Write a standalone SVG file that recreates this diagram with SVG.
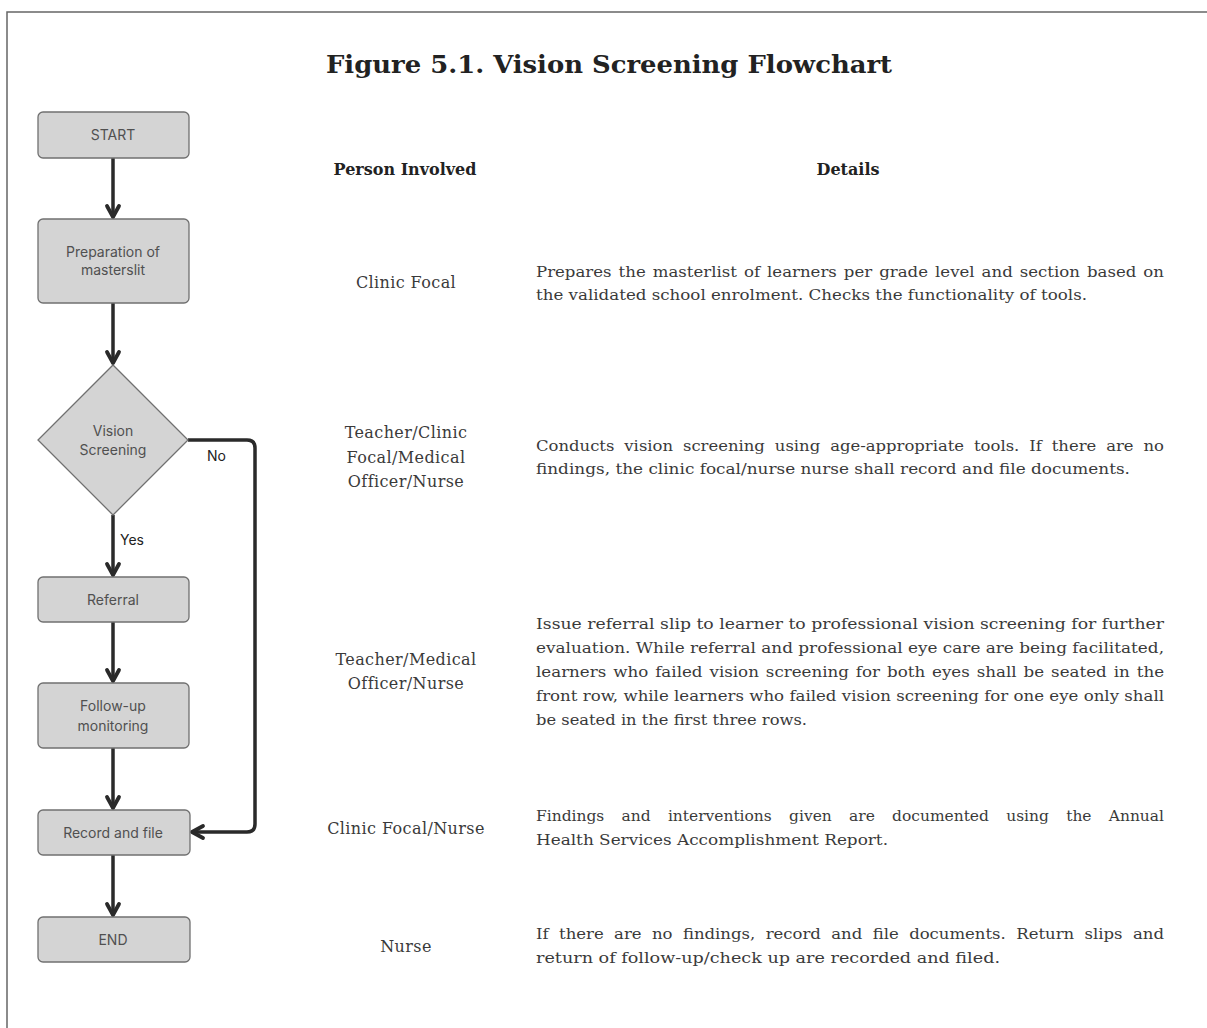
<svg xmlns="http://www.w3.org/2000/svg" width="1207" height="1028" viewBox="0 0 1207 1028">
<style>
.node{fill:#d4d4d4;stroke:#707070;stroke-width:1.3}
.nt{font-family:Inter,"Noto Sans",sans-serif;font-size:14px;fill:#505050;text-anchor:middle}
.lbl{font-family:Inter,"Noto Sans",sans-serif;font-size:14px;fill:#222}
.conn{fill:none;stroke:#2a2a2a;stroke-width:3.5}
.title{font-family:"DejaVu Serif",serif;font-weight:bold;font-size:24px;fill:#222}
.hd{font-family:"DejaVu Serif",serif;font-weight:bold;font-size:16px;fill:#222;text-anchor:middle}
.per{font-family:"DejaVu Serif",serif;font-size:16px;fill:#3a3a3a;text-anchor:middle;letter-spacing:0.4px}
.det{font-family:"DejaVu Serif",serif;font-size:15px;fill:#3a3a3a}
</style>
<defs>
<marker id="arr" markerUnits="userSpaceOnUse" viewBox="0 0 16 14" markerWidth="16" markerHeight="14" refX="14" refY="7" orient="auto" overflow="visible">
<path d="M3,1 L14,7 L3,13" fill="none" stroke="#2a2a2a" stroke-width="3.8" stroke-linejoin="round" stroke-linecap="round"/>
</marker>
</defs>
<rect width="1207" height="1028" fill="#fff"/>
<path d="M7,1028 V12 H1207" fill="none" stroke="#666" stroke-width="1.5"/>
<text class="title" x="326" y="73" textLength="566" lengthAdjust="spacingAndGlyphs">Figure 5.1. Vision Screening Flowchart</text>
<text class="hd" x="405" y="175">Person Involved</text>
<text class="hd" x="848" y="175">Details</text>

<g id="connectors">
<line class="conn" x1="113" y1="158" x2="113" y2="217" marker-end="url(#arr)"/>
<line class="conn" x1="113" y1="303" x2="113" y2="363" marker-end="url(#arr)"/>
<line class="conn" x1="113" y1="515" x2="113" y2="575" marker-end="url(#arr)"/>
<line class="conn" x1="113" y1="622" x2="113" y2="681" marker-end="url(#arr)"/>
<line class="conn" x1="113" y1="748" x2="113" y2="808" marker-end="url(#arr)"/>
<line class="conn" x1="113" y1="855" x2="113" y2="915" marker-end="url(#arr)"/>
<path class="conn" d="M188,440 H247 Q255,440 255,448 V824 Q255,832 247,832 H192" marker-end="url(#arr)"/>
<text class="lbl" x="207" y="461">No</text>
<text class="lbl" x="120" y="545">Yes</text>
</g>

<g id="start"><rect class="node" x="38" y="112" width="151" height="46" rx="5"/><text class="nt" x="113" y="140">START</text></g>
<g id="prep"><rect class="node" x="38" y="219" width="151" height="84" rx="5"/><text class="nt" x="113" y="257">Preparation of</text><text class="nt" x="113" y="275">masterslit</text></g>
<g id="vision"><polygon class="node" points="113,365 188,440 113,515 38,440"/><text class="nt" x="113" y="436">Vision</text><text class="nt" x="113" y="455">Screening</text></g>
<g id="referral"><rect class="node" x="38" y="577" width="151" height="45" rx="5"/><text class="nt" x="113" y="605">Referral</text></g>
<g id="followup"><rect class="node" x="38" y="683" width="151" height="65" rx="5"/><text class="nt" x="113" y="711">Follow-up</text><text class="nt" x="113" y="731">monitoring</text></g>
<g id="record"><rect class="node" x="38" y="810" width="152" height="45" rx="5"/><text class="nt" x="113" y="838">Record and file</text></g>
<g id="end"><rect class="node" x="38" y="917" width="152" height="45" rx="5"/><text class="nt" x="113" y="945">END</text></g>

<g id="persons">
<text class="per" x="406" y="288">Clinic Focal</text>
<text class="per" x="406" y="438">Teacher/Clinic</text>
<text class="per" x="406" y="463">Focal/Medical</text>
<text class="per" x="406" y="487">Officer/Nurse</text>
<text class="per" x="406" y="665">Teacher/Medical</text>
<text class="per" x="406" y="689">Officer/Nurse</text>
<text class="per" x="406" y="834">Clinic Focal/Nurse</text>
<text class="per" x="406" y="952">Nurse</text>
</g>

<g id="details">
<text class="det" x="536" y="277" word-spacing="1.6" textLength="628" lengthAdjust="spacingAndGlyphs">Prepares the masterlist of learners per grade level and section based on</text>
<text class="det" x="536" y="300" textLength="551" lengthAdjust="spacingAndGlyphs">the validated school enrolment. Checks the functionality of tools.</text>
<text class="det" x="536" y="451" word-spacing="4.3" textLength="628" lengthAdjust="spacingAndGlyphs">Conducts vision screening using age-appropriate tools. If there are no</text>
<text class="det" x="536" y="474" textLength="594" lengthAdjust="spacingAndGlyphs">findings, the clinic focal/nurse nurse shall record and file documents.</text>
<text class="det" x="536" y="629" textLength="628" lengthAdjust="spacingAndGlyphs">Issue referral slip to  learner to professional  vision screening for further</text>
<text class="det" x="536" y="653" textLength="628" lengthAdjust="spacingAndGlyphs">evaluation. While referral and professional eye care are being facilitated,</text>
<text class="det" x="536" y="677" word-spacing="1.5" textLength="628" lengthAdjust="spacingAndGlyphs">learners who failed vision screening for both eyes shall be seated in the</text>
<text class="det" x="536" y="701" textLength="628" lengthAdjust="spacingAndGlyphs">front row, while learners who failed vision screening for one eye only shall</text>
<text class="det" x="536" y="725" textLength="271" lengthAdjust="spacingAndGlyphs">be seated in the first three rows.</text>
<text class="det" x="536" y="821" word-spacing="12" textLength="628" lengthAdjust="spacingAndGlyphs">Findings and interventions given are documented using the Annual</text>
<text class="det" x="536" y="845" textLength="352" lengthAdjust="spacingAndGlyphs">Health Services Accomplishment Report.</text>
<text class="det" x="536" y="939" word-spacing="4.7" textLength="628" lengthAdjust="spacingAndGlyphs">If there are no findings, record and file documents. Return slips and</text>
<text class="det" x="536" y="963" textLength="464" lengthAdjust="spacingAndGlyphs">return of follow-up/check up are recorded and filed.</text>
</g>
</svg>
